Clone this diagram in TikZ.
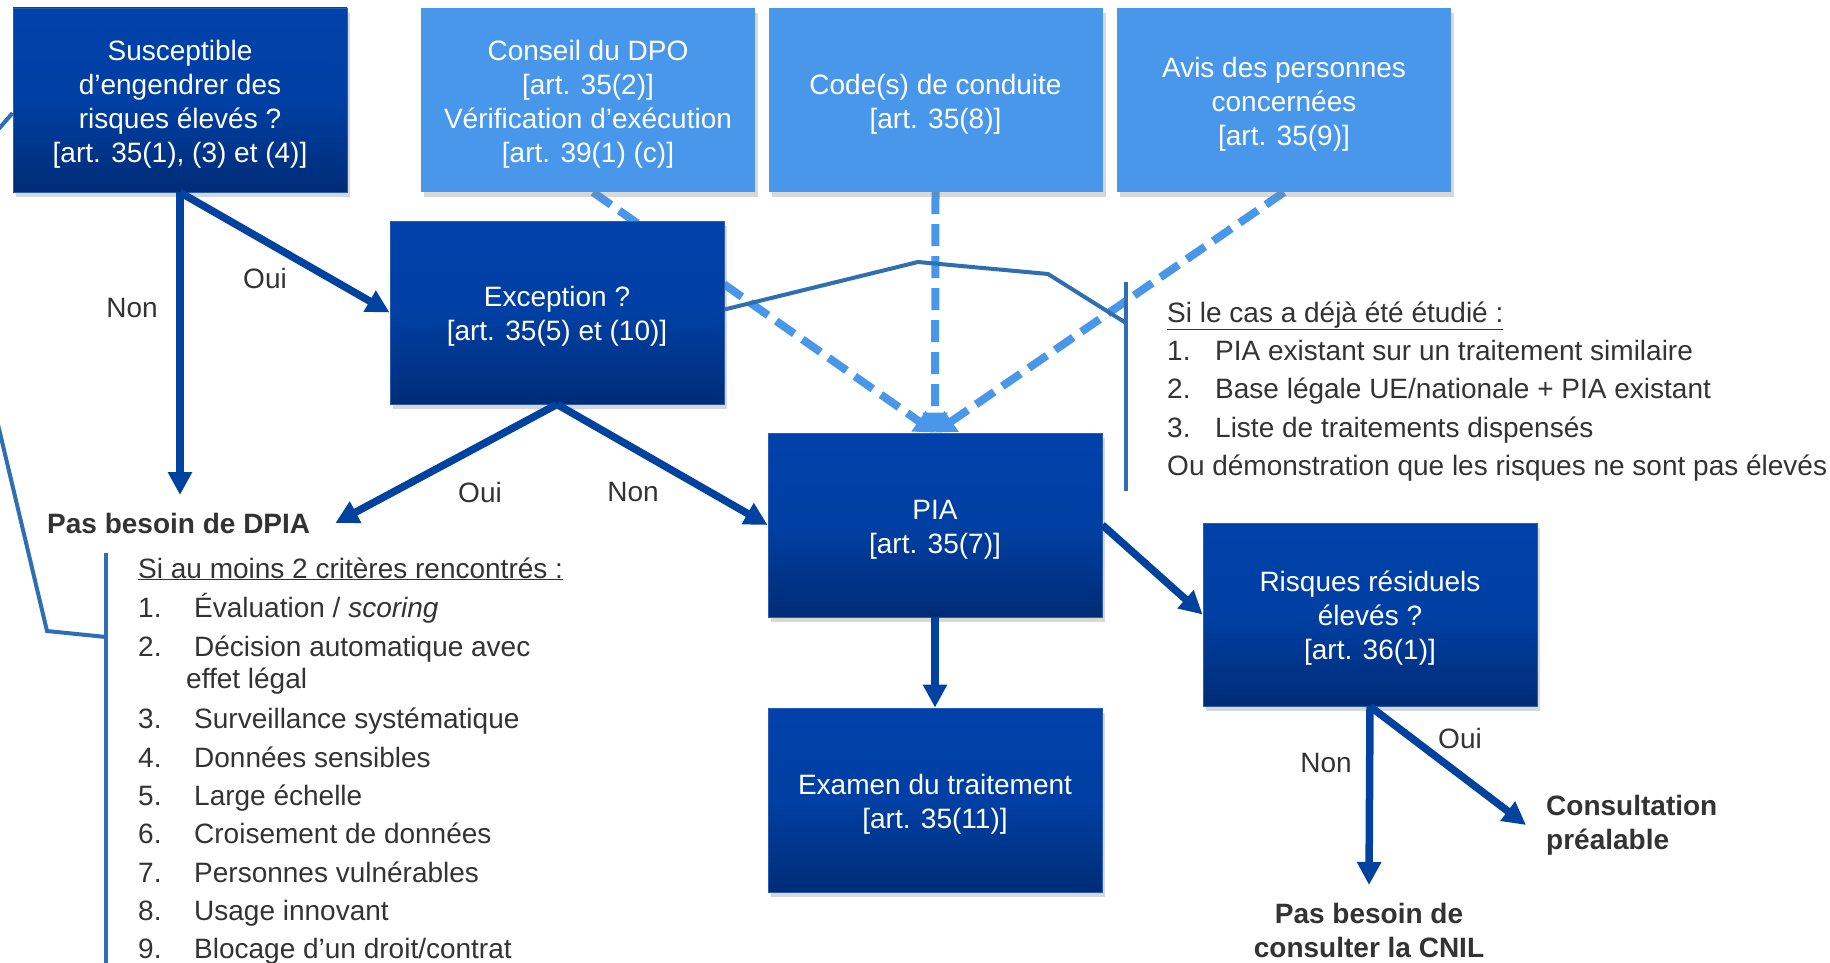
\documentclass[tikz,border=0pt]{standalone}
\usepackage{fontspec}
\setmainfont{Liberation Sans}
\usetikzlibrary{arrows.meta,shadows}
\pgfdeclarelayer{bgwhite}
\pgfdeclarelayer{background}
\pgfsetlayers{bgwhite,background,main}
\definecolor{dkA}{RGB}{0,66,170}
\definecolor{dkB}{RGB}{0,44,118}
\definecolor{lt}{RGB}{73,151,235}
\definecolor{arr}{RGB}{0,66,160}
\definecolor{cal}{RGB}{46,110,178}
\definecolor{txt}{RGB}{51,51,51}
\newcommand{\bxs}{\rule{0pt}{28.5pt}}
\tikzset{
  base/.style={font=\fontsize{28pt}{34pt}\selectfont},
  shad/.style={drop shadow={shadow xshift=3pt, shadow yshift=-5pt, opacity=0.3}},
  boxcommon/.style={base, rectangle, minimum width=334pt, align=center, text=white},
  dkbox/.style={boxcommon, minimum height=#1,
    top color=dkA, bottom color=dkB, middle color=dkA!88!dkB,
    draw=dkA!85!white, line width=0.8pt, shad},
  ltbox/.style={boxcommon, minimum height=184pt, fill=lt, shad},
  lbl/.style={base, text=txt, inner sep=0pt},
  lst/.style={base, text=txt, inner sep=0pt, anchor=base west},
  bold/.style={base, text=txt, font=\fontsize{28pt}{34pt}\selectfont\bfseries},
  arrowln/.style={draw=arr, line width=7.5pt, -{Triangle[length=23pt,width=23pt]}},
  dsh/.style={draw=lt, line width=8pt, dash pattern=on 22pt off 10pt,
    -{Triangle[length=20pt,width=24pt]}},
  callout/.style={draw=cal, line width=4pt, line join=miter},
  barln/.style={draw=cal, line width=4.5pt},
}
\begin{document}
\begin{tikzpicture}[x=1pt,y=-1pt]
\useasboundingbox (0,0) rectangle (1830,963);
\clip (0,0) rectangle (1830,963);
\begin{pgfonlayer}{bgwhite}
\fill[white] (0,0) rectangle (1830,963);
\end{pgfonlayer}

% boxes
\node[dkbox=184pt] (b1) at (180,100) {\bxs Susceptible\\d’engendrer des\\risques élevés ?\\{[}art. 35(1), (3) et (4)]};
\node[ltbox] (dpo) at (588,100) {\bxs Conseil du DPO\\{[}art. 35(2)]\\Vérification d’exécution\\{[}art. 39(1) (c)]};
\node[ltbox] (code) at (935.5,100) {\bxs Code(s) de conduite\\{[}art. 35(8)]};
\node[ltbox] (avis) at (1284,100) {\bxs Avis des personnes\\concernées\\{[}art. 35(9)]};
\node[dkbox=183pt] (exc) at (557,312.5) {\bxs Exception ?\\{[}art. 35(5) et (10)]};
\node[dkbox=184pt] (pia) at (935,525) {\bxs PIA\\{[}art. 35(7)]};
\node[dkbox=184pt] (exam) at (935,800) {\bxs Examen du traitement\\{[}art. 35(11)]};
\node[dkbox=183pt] (risk) at (1370,614.5) {\bxs Risques résiduels\\élevés ?\\{[}art. 36(1)]};

% terminal texts
\node[bold, anchor=west, inner xsep=25pt, inner ysep=0pt] (nodpia) at (22,523) {Pas besoin de DPIA};
\node[bold, anchor=west, align=left, inner xsep=20pt, inner ysep=0pt] (consult) at (1526,825) {Consultation\\préalable};
\node[bold, anchor=north, align=center, inner xsep=0pt, inner ysep=18pt] (pasb) at (1369,885) {Pas besoin de\\consulter la CNIL};

% labels
\node[lbl] (oui1) at (265,278) {Oui};
\node[lbl] (non1) at (132,308) {Non};
\node[lbl] (oui2) at (480,492) {Oui};
\node[lbl] (non2) at (633,492) {Non};
\node[lbl] (oui3) at (1460,738) {Oui};
\node[lbl] (non3) at (1326,763) {Non};

% right list
\node[lst] (rh) at (1167,322) {\underline{Si le cas a déjà été étudié :}};
\node[lst] (r1) at (1167,360) {\makebox[48pt][l]{1.}PIA existant sur un traitement similaire};
\node[lst] (r2) at (1167,398) {\makebox[48pt][l]{2.}Base légale UE/nationale + PIA existant};
\node[lst] (r3) at (1167,437) {\makebox[48pt][l]{3.}Liste de traitements dispensés};
\node[lst] (r4) at (1167,475) {Ou démonstration que les risques ne sont pas élevés};

% left list
\node[lst] (lh) at (138,578) {\underline{Si au moins 2 critères rencontrés :}};
\node[lst] (l1) at (138,617) {\makebox[56pt][l]{1.}Évaluation / \textit{scoring}};
\node[lst] (l2) at (138,656) {\makebox[56pt][l]{2.}Décision automatique avec};
\node[lst] (l2b) at (186,688) {effet légal};
\node[lst] (l3) at (138,728) {\makebox[56pt][l]{3.}Surveillance systématique};
\node[lst] (l4) at (138,767) {\makebox[56pt][l]{4.}Données sensibles};
\node[lst] (l5) at (138,805) {\makebox[56pt][l]{5.}Large échelle};
\node[lst] (l6) at (138,843) {\makebox[56pt][l]{6.}Croisement de données};
\node[lst] (l7) at (138,882) {\makebox[56pt][l]{7.}Personnes vulnérables};
\node[lst] (l8) at (138,920) {\makebox[56pt][l]{8.}Usage innovant};
\node[lst] (l9) at (138,958) {\makebox[56pt][l]{9.}Blocage d’un droit/contrat};

% coordinates for callouts and bars
\coordinate (nontip) at (180,495);
\coordinate (rbt) at (1126,282);
\coordinate (rbb) at (1126,491);
\coordinate (rc) at (1126,323);
\coordinate (rk1) at (918,262);
\coordinate (rk2) at (1048,274);
\coordinate (lbt) at (106,553);
\coordinate (lbb) at (106,966);
\coordinate (lc) at (106,637);
\coordinate (lk1) at (-57,193);
\coordinate (lk2) at (47,631);

\begin{pgfonlayer}{background}
\draw[dsh] ([xshift=5pt]dpo.south) -- (pia.north);
\draw[dsh] (code.south) -- (pia.north);
\draw[dsh] (avis.south) -- (pia.north);
\draw[callout] ([yshift=3pt]exc.east) -- (rk1) -- (rk2) -- (rc);
\draw[callout] ([yshift=-13pt]b1.west) -- (lk1) -- (lk2) -- (lc);
\draw[barln] (rbt) -- (rbb);
\draw[barln] (lbt) -- (lbb);
\end{pgfonlayer}

% solid arrows
\draw[arrowln] (b1.south) -- (nontip);
\draw[arrowln] (b1.south) -- (exc.west);
\draw[arrowln] (exc.south) -- (nodpia.east);
\draw[arrowln] (exc.south) -- (pia.west);
\draw[arrowln] (pia.south) -- (exam.north);
\draw[arrowln] (pia.east) -- (risk.west);
\draw[arrowln] (risk.south) -- (pasb.north);
\draw[arrowln] (risk.south) -- (consult.west);
\end{tikzpicture}
\end{document}
